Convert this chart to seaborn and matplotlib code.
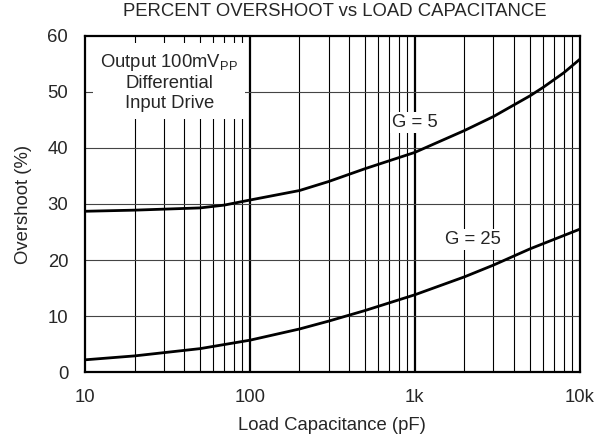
import matplotlib.pyplot as plt
import seaborn as sns
import numpy as np
import pandas as pd

sns.set_style("white")
plt.rcParams['font.family'] = ['Liberation Sans', 'DejaVu Sans']
plt.rcParams['mathtext.fontset'] = 'custom'
plt.rcParams['mathtext.rm'] = 'Liberation Sans'
plt.rcParams['mathtext.it'] = 'Liberation Sans'
plt.rcParams['mathtext.default'] = 'regular'

FS = 13.3

# Overshoot curves (load capacitance in pF, overshoot in %)
cap_g5 = [10, 20, 50, 70, 100, 200, 300, 500, 1000, 2000, 3000, 5000, 6000, 8000, 10000]
over_g5 = [28.7, 28.9, 29.3, 29.8, 30.7, 32.4, 34.0, 36.3, 39.2, 43.1, 45.6, 49.3, 50.8, 53.4, 55.8]

cap_g25 = [10, 20, 50, 100, 200, 300, 500, 1000, 2000, 3000, 5000, 10000]
over_g25 = [2.2, 2.9, 4.2, 5.7, 7.7, 9.1, 11.0, 13.8, 17.0, 19.1, 22.0, 25.5]

x_ticks = [10, 100, 1000, 10000]
x_labels = ['10', '100', '1k', '10k']
y_ticks = [0, 10, 20, 30, 40, 50, 60]

df = pd.concat([
    pd.DataFrame({'cap': cap_g5, 'over': over_g5, 'gain': 'G = 5'}),
    pd.DataFrame({'cap': cap_g25, 'over': over_g25, 'gain': 'G = 25'}),
])

fig = plt.figure(figsize=(6.02, 4.42), dpi=100)
ax = fig.add_axes([0.141, 0.158, 0.822, 0.761])

ax.set_xscale('log')
ax.set_xlim(10, 10000)
ax.set_ylim(0, 60)

# grid: decades heavy, minor lines thin, horizontals grey
for dec in [10, 100, 1000]:
    for m in range(2, 10):
        ax.axvline(dec * m, color='black', lw=0.8, zorder=1)
for dec in [100, 1000]:
    ax.axvline(dec, color='black', lw=1.6, zorder=1)
for yv in y_ticks[1:-1]:
    ax.axhline(yv, color='#444444', lw=0.8, zorder=1)

sns.lineplot(data=df, x='cap', y='over', units='gain', estimator=None,
             color='black', lw=2, ax=ax, zorder=3, legend=False)

ax.set_xticks(x_ticks)
ax.set_xticklabels(x_labels)
ax.set_xticks([], minor=True)
ax.set_yticks(y_ticks)
ax.tick_params(axis='x', length=0, labelsize=FS, pad=12)
ax.tick_params(axis='y', length=0, labelsize=FS, pad=12)

for s in ax.spines.values():
    s.set_linewidth(1.6)
    s.set_color('black')
    s.set_zorder(4)

ax.set_xlabel('Load Capacitance (pF)', fontsize=FS)
ax.set_ylabel('Overshoot (%)', fontsize=FS)
ax.xaxis.set_label_coords(0.5, -0.158)
ax.xaxis.label.set_va('center')
ax.yaxis.set_label_coords(-0.125, 0.5)
ax.yaxis.label.set_va('center')
fig.text(0.556, 0.973, 'PERCENT OVERSHOOT vs LOAD CAPACITANCE',
         ha='center', va='center', fontsize=FS)

box = dict(facecolor='white', edgecolor='none', pad=1.5)
ax.text(32.5, 51.8, 'Output 100mV$_{PP}$\nDifferential\nInput Drive',
        ha='center', va='center', fontsize=FS, linespacing=1.2, zorder=5,
        bbox=dict(facecolor='white', edgecolor='none', pad=5))
ax.text(1000, 44.5, 'G = 5', ha='center', va='center', fontsize=FS,
        zorder=5, bbox=box)
ax.text(2250, 23.6, 'G = 25', ha='center', va='center', fontsize=FS,
        zorder=5, bbox=box)

plt.savefig('out.png', dpi=100)
